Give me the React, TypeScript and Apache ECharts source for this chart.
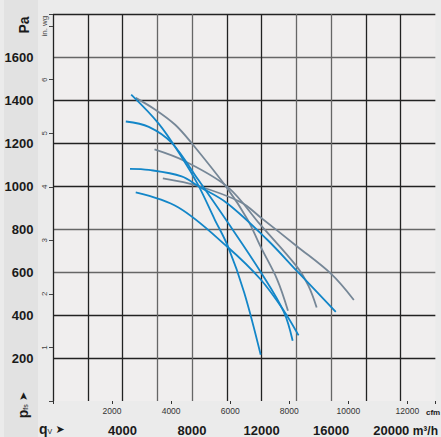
import React, { useEffect, useRef } from "react";
import * as echarts from "echarts";

// ---- data (flow in m³/h, static pressure in Pa) ----
const flowLabels = [4000, 8000, 12000, 16000, 20000];
const pressureLabels = [200, 400, 600, 800, 1000, 1200, 1400, 1600];
const inwgLabels = [1, 2, 3, 4, 5, 6];
const cfmLabels = [2000, 4000, 6000, 8000, 10000, 12000];
const inwgName = "in. wg";

const blueCurve1 = [[4500, 1425], [6080, 1290], [7400, 1135], [8350, 1005], [9300, 845], [10060, 720], [11000, 505], [11950, 215]];
const blueCurve2 = [[4190, 1300], [5510, 1275], [6840, 1200], [8350, 1030], [10060, 830], [11950, 600], [13280, 415], [13790, 280]];
const blueCurve3 = [[4430, 1080], [5510, 1075], [7400, 1045], [8350, 1000], [10020, 920], [12330, 750], [14030, 605], [16270, 415]];
const blueCurve4 = [[4760, 970], [7220, 900], [10060, 715], [11950, 565], [13280, 420], [14130, 305]];
const grayCurve1 = [[4760, 1410], [5890, 1355], [7030, 1285], [7970, 1200], [10020, 990], [11190, 845], [11930, 720], [12900, 565], [13520, 420]];
const grayCurve2 = [[5840, 1170], [7600, 1115], [10060, 995], [11930, 820], [14030, 625], [14700, 535], [15170, 435]];
const grayCurve3 = [[6320, 1035], [8350, 1000], [10800, 925], [11930, 855], [14030, 720], [16020, 590], [17310, 470]];

const M3H_PER_CFM = 1.699011;
const PA_PER_INWG = 249.0889;
const X_MAX = 22000;
const Y_MAX = 1800;

const BLUE = "#1386c8";
const GRAY = "#768797";
const DARK = "#222222";
const MID = "#666666";
const FONT = "'Liberation Sans Narrow', 'Liberation Sans', Arial, sans-serif";

export default function App() {
  const ref = useRef<HTMLDivElement>(null);
  useEffect(() => {
    if (!ref.current) return;
    const chart = echarts.init(ref.current, undefined, { renderer: "svg" });
    const mk = (data: number[][], color: string) => ({
      type: "line",
      data,
      smooth: 0.35,
      showSymbol: false,
      xAxisIndex: 0,
      yAxisIndex: 0,
      lineStyle: { color, width: 1.8 },
      silent: true,
    });
    chart.setOption({
      animation: false,
      grid: {
        left: 53,
        top: 14,
        width: 388,
        height: 388.5,
        show: true,
        backgroundColor: "#f0eeee",
        borderWidth: 0,
      },
      xAxis: [
        {
          type: "value",
          min: 0,
          max: X_MAX,
          interval: 2000,
          position: "bottom",
          axisLine: { show: false },
          axisTick: { show: false },
          splitLine: {
            show: true,
            showMinLine: true,
            showMaxLine: true,
            lineStyle: {
              width: 1.3,
              color: [DARK, DARK, DARK, MID, MID, DARK, DARK, MID, MID, DARK, DARK, "transparent"],
            },
          },
          axisLabel: {
            margin: 23,
            fontFamily: FONT,
            fontSize: 13,
            fontWeight: "bold",
            color: "#1a1a1a",
            formatter: (v: number) =>
              v === 20000
                ? "{v|" + v + "}{u| m³/h}"
                : flowLabels.includes(v)
                ? String(v)
                : "",
            rich: {
              v: { fontFamily: FONT, fontSize: 13, fontWeight: "bold", color: "#1a1a1a", padding: [0, 0, 0, 10] },
              u: { fontFamily: FONT, fontSize: 12, fontWeight: "bold", color: "#1a1a1a" },
            },
          },
        },
        {
          type: "value",
          min: 0,
          max: X_MAX / M3H_PER_CFM,
          interval: 2000,
          position: "bottom",
          axisLine: { show: false },
          axisTick: { show: true, length: 3, lineStyle: { color: "#333", width: 1 } },
          splitLine: { show: false },
          axisLabel: {
            margin: 5,
            fontFamily: "'Liberation Sans', Arial, sans-serif",
            fontSize: 8.5,
            color: "#333",
            formatter: (v: number) => (cfmLabels.includes(v) ? String(v) : ""),
          },
        },
      ],
      yAxis: [
        {
          type: "value",
          min: 0,
          max: Y_MAX,
          interval: 200,
          position: "left",
          axisLine: { show: false },
          axisTick: { show: false },
          splitLine: {
            show: true,
            showMinLine: false,
            showMaxLine: true,
            lineStyle: {
              width: 1.3,
              color: [DARK, DARK, MID, MID, DARK, DARK, DARK, MID, DARK],
            },
          },
          axisLabel: {
            margin: 19.5,
            fontFamily: FONT,
            fontSize: 13,
            fontWeight: "bold",
            color: "#1a1a1a",
            formatter: (v: number) => (pressureLabels.includes(v) ? String(v) : ""),
          },
        },
        {
          type: "value",
          min: 0,
          max: Y_MAX / PA_PER_INWG,
          interval: 1,
          position: "left",
          axisLine: { show: false },
          axisTick: { show: true, length: 4, lineStyle: { color: "#444", width: 1 } },
          splitLine: { show: false },
          axisLabel: {
            margin: 4.5,
            rotate: 90,
            fontFamily: "'Liberation Sans', Arial, sans-serif",
            fontSize: 8,
            color: "#444",
            formatter: (v: number) =>
              v === 7 ? inwgName : inwgLabels.includes(v) ? String(v) : "",
          },
        },
      ],
      graphic: [
        {
          type: "text",
          x: 24,
          y: 25,
          rotation: Math.PI / 2,
          style: {
            text: "Pa",
            fontFamily: FONT,
            fontSize: 14,
            fontWeight: "bold",
            fill: "#1a1a1a",
            align: "center",
            verticalAlign: "middle",
          },
        },
        {
          type: "text",
          x: 23,
          y: 405,
          rotation: Math.PI / 2,
          style: {
            text: "{p|p}{s|fs} {a|➤}",
            align: "center",
            verticalAlign: "middle",
            rich: {
              p: { fontFamily: FONT, fontSize: 14, fontWeight: "bold", fill: "#1a1a1a" },
              s: { fontFamily: FONT, fontSize: 7, fill: "#1a1a1a", padding: [4, 0, 0, 0] },
              a: { fontFamily: "DejaVu Sans", fontSize: 11, fill: "#1a1a1a" },
            },
          },
        },
        {
          type: "text",
          x: 39,
          y: 429,
          style: {
            text: "{q|q}{s|V} {a|➤}",
            align: "left",
            verticalAlign: "middle",
            rich: {
              q: { fontFamily: FONT, fontSize: 14, fontWeight: "bold", fill: "#1a1a1a" },
              s: { fontFamily: FONT, fontSize: 7, fill: "#1a1a1a", padding: [4, 0, 0, 0] },
              a: { fontFamily: "DejaVu Sans", fontSize: 11, fill: "#1a1a1a" },
            },
          },
        },
        {
          type: "text",
          x: 426,
          y: 412.5,
          style: {
            text: "cfm",
            fontFamily: FONT,
            fontSize: 8,
            fontWeight: "bold",
            fill: "#1a1a1a",
            align: "left",
            verticalAlign: "middle",
          },
        },
      ],
      series: [
        mk(grayCurve1, GRAY),
        mk(grayCurve2, GRAY),
        mk(grayCurve3, GRAY),
        mk(blueCurve1, BLUE),
        mk(blueCurve2, BLUE),
        mk(blueCurve3, BLUE),
        mk(blueCurve4, BLUE),
      ],
    });
    return () => chart.dispose();
  }, []);

  return (
    <div style={{ position: "absolute", left: 0, top: 0, width: 441, height: 437, background: "#ebebeb", overflow: "hidden" }}>
      <div style={{ position: "absolute", left: 4, top: 0, width: 34, height: 437, background: "#e2e2e2" }} />
      <div ref={ref} style={{ position: "absolute", left: 0, top: 0, width: 441, height: 437 }} />
    </div>
  );
}
